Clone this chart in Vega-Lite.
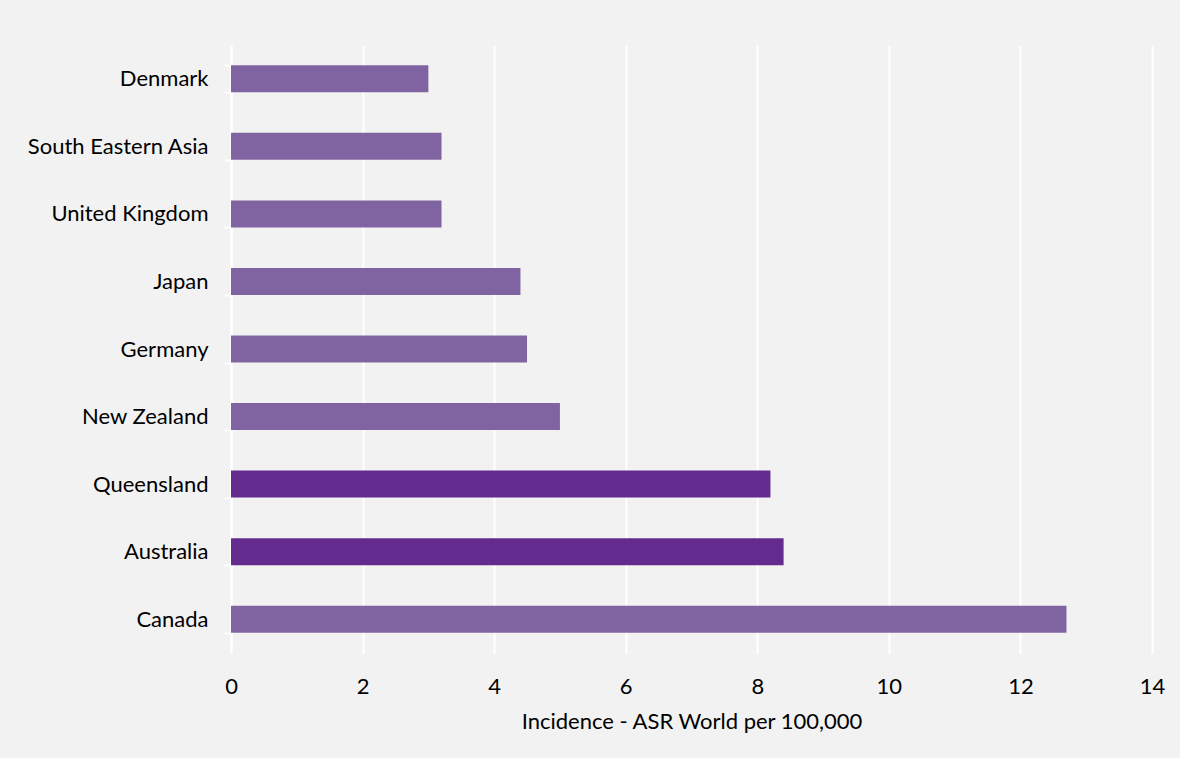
{
  "$schema": "https://vega.github.io/schema/vega-lite/v6.json",
  "autosize": {"type": "none"},
  "width": 921,
  "height": 608,
  "padding": {"left": 231, "top": 45, "right": 28, "bottom": 105},
  "background": "#f2f2f2",
  "data": {
    "values": [
      {"region": "Denmark", "incidence": 3.0, "group": "Other"},
      {"region": "South Eastern Asia", "incidence": 3.2, "group": "Other"},
      {"region": "United Kingdom", "incidence": 3.2, "group": "Other"},
      {"region": "Japan", "incidence": 4.4, "group": "Other"},
      {"region": "Germany", "incidence": 4.5, "group": "Other"},
      {"region": "New Zealand", "incidence": 5.0, "group": "Other"},
      {"region": "Queensland", "incidence": 8.2, "group": "Australian"},
      {"region": "Australia", "incidence": 8.4, "group": "Australian"},
      {"region": "Canada", "incidence": 12.7, "group": "Other"}
    ]
  },
  "mark": {"type": "bar"},
  "encoding": {
    "y": {
      "field": "region",
      "type": "nominal",
      "sort": null,
      "scale": {"paddingInner": 0.6, "paddingOuter": 0.3},
      "axis": {
        "title": null,
        "domain": true,
        "domainColor": "#ffffff",
        "domainWidth": 2,
        "ticks": true,
        "tickColor": "#ffffff",
        "tickWidth": 2,
        "tickSize": 7,
        "tickBand": "extent",
        "labelPadding": 16,
        "labelLimit": 400,
        "labelFont": "Lato",
        "labelFontSize": 22,
        "labelColor": "#000000",
        "grid": false
      }
    },
    "x": {
      "field": "incidence",
      "type": "quantitative",
      "scale": {"domain": [0, 14], "nice": false},
      "axis": {
        "values": [0, 2, 4, 6, 8, 10, 12, 14],
        "title": "Incidence - ASR World per 100,000",
        "titleFont": "Lato",
        "titleFontSize": 22,
        "titleFontWeight": "normal",
        "titleColor": "#000000",
        "titlePadding": 14,
        "domain": false,
        "ticks": false,
        "grid": true,
        "gridColor": "#ffffff",
        "gridWidth": 2,
        "gridOpacity": 1,
        "labelPadding": 23,
        "labelFlush": false,
        "labelFont": "Lato",
        "labelFontSize": 22,
        "labelColor": "#000000"
      }
    },
    "color": {
      "field": "group",
      "type": "nominal",
      "scale": {"domain": ["Other", "Australian"], "range": ["#8064a2", "#632b8d"]},
      "legend": null
    }
  },
  "config": {"view": {"stroke": null}}
}
